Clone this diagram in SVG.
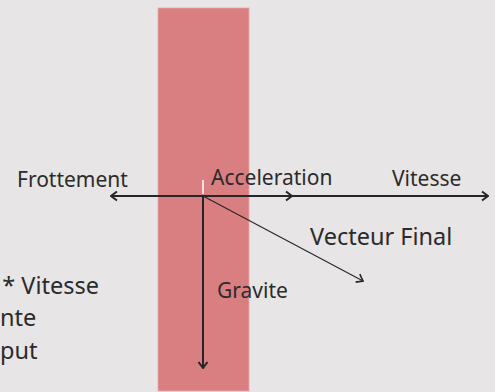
<svg xmlns="http://www.w3.org/2000/svg" width="495" height="392" viewBox="0 0 495 392">
<defs>
<style>
.lbl{font-family:"Noto Sans","Open Sans","DejaVu Sans",sans-serif;font-size:21px;fill:#2b2b2b}
.big{font-size:23.5px}
.ln{stroke:#262626;fill:none}
</style>
<marker id="chev" markerUnits="userSpaceOnUse" viewBox="0 0 10 12" refX="9" refY="6" markerWidth="10" markerHeight="12" orient="auto">
<path d="M3,1.5 L9,6 L3,10.5" fill="none" stroke="#262626" stroke-width="2"/>
</marker>
<marker id="chevs" markerUnits="userSpaceOnUse" viewBox="0 0 10 12" refX="9" refY="6" markerWidth="10" markerHeight="12" orient="auto">
<path d="M3,1.5 L9,6 L3,10.5" fill="none" stroke="#262626" stroke-width="1.6"/>
</marker>
</defs>
<rect width="495" height="392" fill="#e7e5e6"/>
<g id="bande">
<rect x="158" y="8" width="91" height="383" fill="#d97e81" stroke="#e9a9aa" stroke-width="0.8"/>
</g>
<g id="connectors">
<line class="ln" x1="203" y1="196" x2="111" y2="196" stroke-width="2" marker-end="url(#chev)"/>
<line class="ln" x1="203" y1="196" x2="488" y2="196" stroke-width="2" marker-end="url(#chev)"/>
<line class="ln" x1="203" y1="196" x2="292" y2="196" stroke-width="2" marker-end="url(#chev)"/>
<line class="ln" x1="203" y1="195" x2="203" y2="368" stroke-width="2" marker-end="url(#chev)"/>
<line class="ln" x1="203" y1="196" x2="363" y2="281" stroke-width="1.1" marker-end="url(#chevs)"/>
<line x1="203" y1="180" x2="203" y2="194" stroke="#ffffff" stroke-width="1.5"/>
</g>
<g id="frottement"><text class="lbl" x="17" y="187">Frottement</text></g>
<g id="acceleration"><text class="lbl" x="211" y="185">Acceleration</text></g>
<g id="vitesse"><text class="lbl" x="392" y="186">Vitesse</text></g>
<g id="vecteur-final"><text class="lbl big" x="310" y="245">Vecteur Final</text></g>
<g id="gravite"><text class="lbl" x="217" y="298">Gravite</text></g>
<g id="notes">
<text class="lbl big" x="99" y="294" text-anchor="end">* Vitesse</text>
<text class="lbl big" x="0" y="326">nte</text>
<text class="lbl big" x="0" y="359">put</text>
</g>
</svg>
